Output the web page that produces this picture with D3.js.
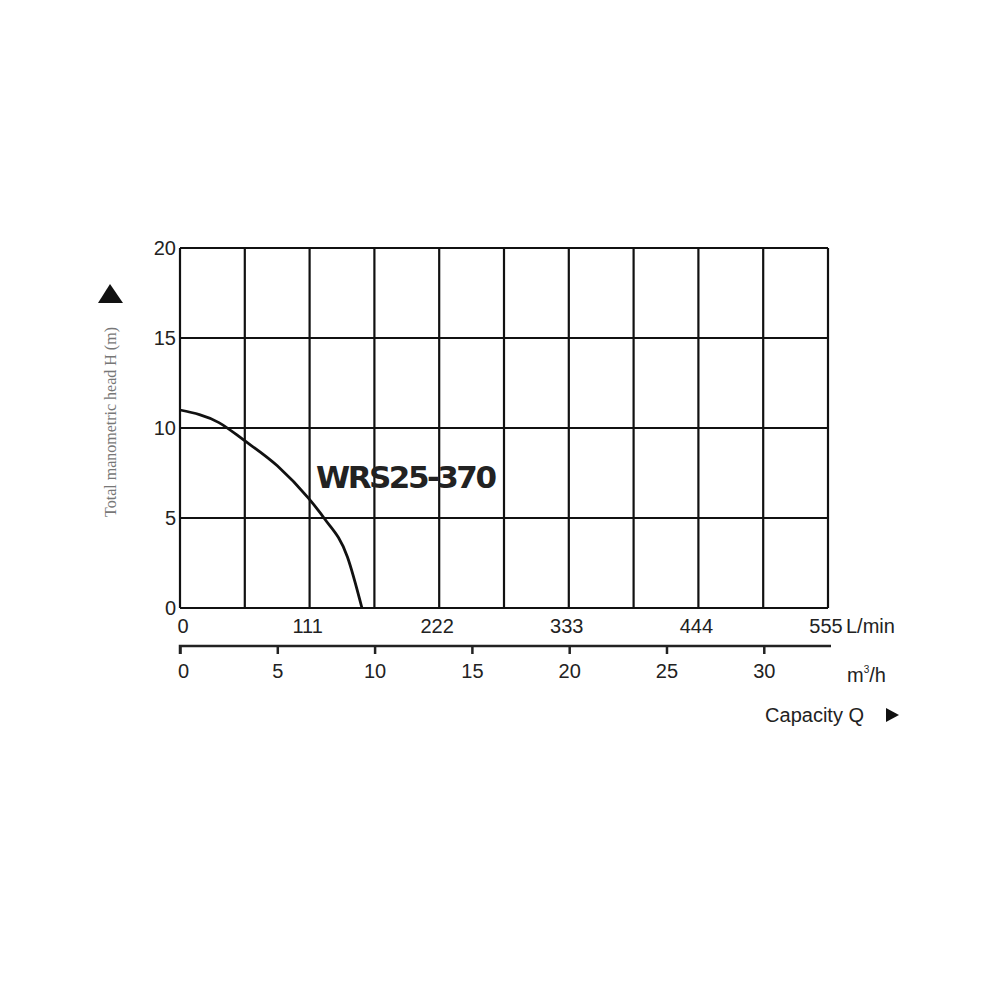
<!DOCTYPE html>
<html><head><meta charset="utf-8">
<script src="https://cdn.jsdelivr.net/npm/d3@7"></script>
<style>body{margin:0;background:#fff}text{font-family:"Liberation Sans",Arial,sans-serif}</style>
</head><body>
<script>
// curve (Q in m3/h, H in m)
const flowM3h = [0, 2, 3.25, 5, 6.6, 7.4, 8.6, 9.35]
const headM = [11, 10.3, 9.35, 7.9, 6.1, 5.0, 2.85, 0]
const headTicks = [0, 5, 10, 15, 20]
const lminTicks = [0, 111, 222, 333, 444, 555]
const m3hTicks = [0, 5, 10, 15, 20, 25, 30]
const model = 'WRS25-370'

const frame = { left: 180, right: 828, top: 248, bottom: 608 }

const svg = d3.select('body').append('svg').attr('width', 1000).attr('height', 1000)

const x = d3.scaleLinear().domain([0, 33.3]).range([frame.left, frame.right])
const xl = d3.scaleLinear().domain([0, 555]).range([frame.left, frame.right])
const y = d3.scaleLinear().domain([0, 20]).range([frame.bottom, frame.top])

// grid: 10 columns
const cols = d3.range(0, 11).map(i => i * 55.5)
svg.selectAll('.vg').data(cols).enter().append('line')
  .attr('x1', d => xl(d)).attr('x2', d => xl(d))
  .attr('y1', frame.top).attr('y2', frame.bottom)
  .attr('stroke', '#111').attr('stroke-width', 2.2)
svg.selectAll('.hg').data(headTicks).enter().append('line')
  .attr('x1', frame.left).attr('x2', frame.right)
  .attr('y1', d => y(d)).attr('y2', d => y(d))
  .attr('stroke', '#111').attr('stroke-width', 2.2)

// y tick labels
svg.selectAll('.yt').data(headTicks).enter().append('text')
  .attr('x', 176).attr('y', d => y(d) + 7)
  .attr('text-anchor', 'end').attr('font-size', 20).attr('fill', '#222')
  .text(d => d)

// L/min labels
svg.selectAll('.lt').data(lminTicks).enter().append('text')
  .attr('x', (d, i) => i === 0 ? xl(d) + 3 : xl(d) - 2).attr('y', 633)
  .attr('text-anchor', 'middle').attr('font-size', 20).attr('fill', '#222')
  .text(d => d)
svg.append('text').attr('x', 846).attr('y', 633).attr('font-size', 20).attr('fill', '#222').text('L/min')

// m3/h axis
const axis = d3.axisBottom(x).tickValues(m3hTicks).tickSize(8).tickPadding(10).tickFormat(d => d)
const g = svg.append('g').attr('transform', 'translate(0,646)').call(axis)
g.select('.domain').attr('d', `M${frame.left},8V0H${frame.right + 3}`).attr('stroke-width', 2.5).attr('stroke', '#222')
g.selectAll('.tick line').attr('stroke-width', 2.5).attr('stroke', '#222')
g.selectAll('.tick text').attr('font-size', 20).attr('fill', '#222')
  .attr('font-family', '"Liberation Sans",Arial,sans-serif')
  .attr('dx', d => d === 0 ? 3 : 0)
const unit = svg.append('text').attr('x', 847).attr('y', 682).attr('font-size', 20).attr('fill', '#222')
unit.append('tspan').text('m')
unit.append('tspan').attr('font-size', 10).attr('dy', -9).text('3')
unit.append('tspan').attr('dy', 9).text('/h')

svg.append('text').attr('x', 864).attr('y', 722).attr('text-anchor', 'end')
  .attr('font-size', 20).attr('fill', '#222').text('Capacity Q')
svg.append('path').attr('d', 'M886,708L899,715L886,722Z').attr('fill', '#111')

// y title
svg.append('text').attr('transform', 'translate(116,422) rotate(-90)')
  .attr('text-anchor', 'middle').attr('font-size', 16).attr('fill', '#777')
  .style('font-family', '"Liberation Serif","DejaVu Serif",serif')
  .text('Total manometric head H (m)')
svg.append('path').attr('d', 'M98,303L110,284L123,303Z').attr('fill', '#111')

// curve
const pts = flowM3h.map((q, i) => [q, headM[i]])
svg.append('path').datum(pts)
  .attr('d', d3.line().x(d => x(d[0])).y(d => y(d[1])).curve(d3.curveMonotoneX))
  .attr('fill', 'none').attr('stroke', '#111').attr('stroke-width', 2.8)

svg.append('text').attr('x', 316).attr('y', 488).attr('font-size', 31).attr('font-weight', 'bold')
  .attr('fill', '#222').style('font-family', '"DejaVu Sans",Arial,sans-serif').attr('textLength', 181).text(model)
</script>
</body></html>
